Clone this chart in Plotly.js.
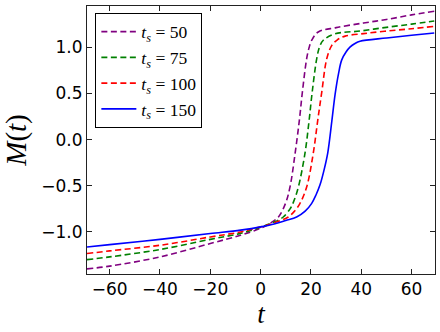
<!DOCTYPE html>
<html>
<head>
<meta charset="utf-8">
<script src="https://cdn.plot.ly/plotly-3.0.1.min.js"></script>
<style>
  html, body { margin: 0; padding: 0; background: #fff; }
  #chart { width: 440px; height: 332px; }
</style>
</head>
<body>
<div id="chart"></div>
<script>
// Значения
const t50 = [-69, -60, -40, -20, -8, 0, 3.5, 7, 9.9, 11.7, 13.7, 15.4, 16.6, 18.3, 19.3, 20.3, 22.9, 30, 40.9, 50, 60, 69];
const m50 = [-1.40, -1.37, -1.27, -1.125, -1.035, -0.96, -0.91, -0.84, -0.69, -0.51, -0.15, 0.21, 0.515, 0.877, 1.0, 1.075, 1.165, 1.212, 1.262, 1.30, 1.35, 1.39];

const t75 = [-69, -60, -40, -20, -8, 0, 4, 6.5, 9, 11.7, 13, 15, 17.6, 19.2, 20.5, 22.3, 23.5, 24.9, 29.6, 39.5, 50, 60, 69];
const m75 = [-1.30, -1.27, -1.19, -1.08, -1.015, -0.95, -0.905, -0.88, -0.838, -0.75, -0.68, -0.513, -0.152, 0.19, 0.515, 0.877, 1.01, 1.075, 1.145, 1.175, 1.215, 1.25, 1.284];

const t100 = [-69, -60, -40, -20, -8, 0, 4.5, 8, 11, 13.3, 15.6, 18.3, 20.9, 22.7, 24.3, 26.3, 28.3, 30.5, 33.6, 40.9, 50, 60, 69];
const m100 = [-1.234, -1.205, -1.144, -1.054, -1.0, -0.945, -0.91, -0.875, -0.838, -0.78, -0.693, -0.513, -0.152, 0.209, 0.515, 0.877, 1.02, 1.08, 1.12, 1.147, 1.175, 1.20, 1.226];

const t150 = [-69, -60, -40, -20, -8, 0, 5.7, 10, 14.3, 17.7, 20.3, 22, 23.6, 25.2, 26.7, 28.3, 29.6, 31, 32.2, 34, 35.5, 37.5, 39.5, 50, 60, 69];
const m150 = [-1.162, -1.137, -1.08, -1.017, -0.98, -0.945, -0.91, -0.875, -0.838, -0.775, -0.69, -0.60, -0.49, -0.33, -0.14, 0.2, 0.49, 0.72, 0.86, 0.95, 1.0, 1.04, 1.065, 1.10, 1.13, 1.154];

const names = ['<i>t</i><sub><i>s</i></sub> = 50', '<i>t</i><sub><i>s</i></sub> = 75',
               '<i>t</i><sub><i>s</i></sub> = 100', '<i>t</i><sub><i>s</i></sub> = 150'];
const colors = ['#800080', '#008000', '#ff0000', '#0000ff'];
const tList = [t50, t75, t100, t150];
const mList = [m50, m75, m100, m150];

const traces = tList.map(function(t, i) {
    return {
        type: 'scatter',
        mode: 'lines',
        x: t,
        y: mList[i],
        name: names[i],
        line: {
            color: colors[i],
            width: 1.6,
            dash: i < 3 ? '6px,3.5px' : 'solid',
            shape: 'spline',
            smoothing: 1
        }
    };
});

const axisCommon = {
    showgrid: false,
    zeroline: false,
    showline: true,
    linecolor: '#222',
    linewidth: 1,
    mirror: 'allticks',
    ticks: 'inside',
    ticklen: 5,
    tickcolor: '#222',
    tickfont: { family: 'DejaVu Sans', size: 17, color: '#000' }
};

const layout = {
    width: 440,
    height: 332,
    margin: { l: 87, r: 5, t: 6, b: 58 },
    paper_bgcolor: '#fff',
    plot_bgcolor: '#fff',
    xaxis: Object.assign({}, axisCommon, {
        range: [-69, 69.3],
        tickvals: [-60, -40, -20, 0, 20, 40, 60],
        title: { text: '<i>t</i>', font: { family: 'Liberation Serif', size: 27, color: '#000' }, standoff: 4 }
    }),
    yaxis: Object.assign({}, axisCommon, {
        range: [-1.455, 1.446],
        tickvals: [-1.0, -0.5, 0, 0.5, 1.0],
        ticktext: ['−1.0', '−0.5', '0.0', '0.5', '1.0'],
        title: { text: '<i>M</i>(<i>t</i>)', font: { family: 'Liberation Serif', size: 29, color: '#000' }, standoff: 6 }
    }),
    showlegend: true,
    legend: {
        x: 0.024,
        y: 0.975,
        xanchor: 'left',
        yanchor: 'top',
        itemwidth: 35,
        bgcolor: '#fff',
        bordercolor: '#000',
        borderwidth: 1,
        font: { family: 'Liberation Serif', size: 17.5, color: '#000' }
    }
};

Plotly.newPlot('chart', traces, layout, { displayModeBar: false, staticPlot: true });
</script>
</body>
</html>
